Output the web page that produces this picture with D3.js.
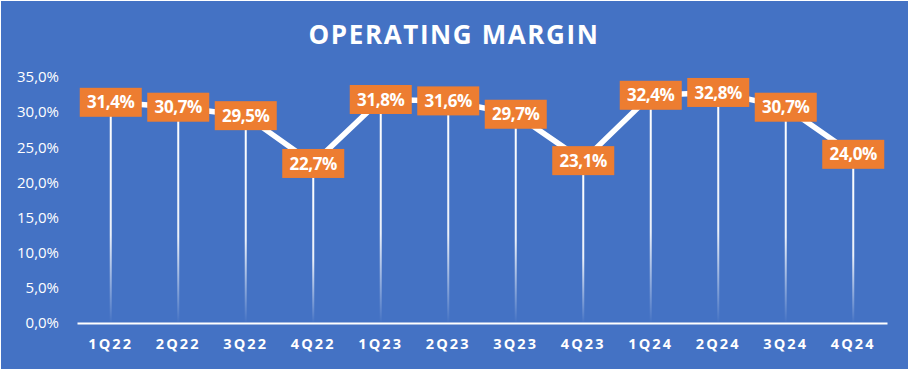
<!DOCTYPE html>
<html><head><meta charset="utf-8">
<script src="https://cdn.jsdelivr.net/npm/d3@7"></script>
<style>html,body{margin:0;padding:0;background:#fff;}svg{display:block;}</style>
</head><body>
<svg id="chart" width="910" height="372"></svg>
<script>
const categories = ["1Q22","2Q22","3Q22","4Q22","1Q23","2Q23","3Q23","4Q23","1Q24","2Q24","3Q24","4Q24"];
const values = [31.4, 30.7, 29.5, 22.7, 31.8, 31.6, 29.7, 23.1, 32.4, 32.8, 30.7, 24.0];
const yTicks = [0, 5, 10, 15, 20, 25, 30, 35];
const title = "OPERATING MARGIN";

const fmt = v => v.toFixed(1).replace(".", ",") + "%";
const svg = d3.select("#chart");
const W = 910, H = 372;
const m = {left: 77, right: 23, top: 77, bottom: 49};

svg.append("rect").attr("x", 1).attr("y", 1).attr("width", 907).attr("height", 368).attr("fill", "#4472C4");

const defs = svg.append("defs");
const grad = defs.append("linearGradient").attr("id", "dropGrad").attr("x1", 0).attr("y1", 0).attr("x2", 0).attr("y2", 1)
  .attr("gradientUnits", "objectBoundingBox");
grad.append("stop").attr("offset", "0%").attr("stop-color", "#fff").attr("stop-opacity", 1);
grad.append("stop").attr("offset", "60%").attr("stop-color", "#fff").attr("stop-opacity", 0.9);
grad.append("stop").attr("offset", "100%").attr("stop-color", "#fff").attr("stop-opacity", 0);

const x = d3.scaleBand().domain(categories).range([m.left, W - m.right]).padding(0);
const y = d3.scaleLinear().domain([0, 35]).range([H - m.bottom, m.top]);

svg.append("text").attr("x", 454).attr("y", 44).attr("text-anchor", "middle")
  .attr("fill", "#fff").attr("font-family", "'Open Sans', sans-serif").attr("font-weight", 700)
  .attr("font-size", 26).attr("letter-spacing", 1.6).text(title);

// y axis labels
const yAxis = d3.axisLeft(y).tickValues(yTicks).tickFormat(d => d.toFixed(1).replace(".", ",") + "%").tickSize(0).tickPadding(0);
const gy = svg.append("g").attr("transform", `translate(${m.left - 18},0)`).call(yAxis);
gy.select(".domain").remove();
gy.selectAll("text").attr("fill", "#fff").attr("font-family", "'Open Sans', sans-serif").attr("font-size", 15);

// drop lines
svg.append("g").selectAll("rect").data(values).join("rect")
  .attr("x", (d, i) => x(categories[i]) + x.bandwidth() / 2 - 1)
  .attr("width", 2)
  .attr("y", d => y(d))
  .attr("height", d => y(0) - y(d))
  .attr("fill", "url(#dropGrad)");

// x axis
const xAxis = d3.axisBottom(x).tickSize(0).tickPadding(16);
const gx = svg.append("g").attr("transform", `translate(0,${y(0)})`).call(xAxis);
gx.select(".domain").attr("stroke", "#fff").attr("stroke-width", 2);
gx.selectAll("text").attr("fill", "#fff").attr("font-family", "'Open Sans', sans-serif").attr("font-weight", 700)
  .attr("font-size", 14.5).attr("letter-spacing", 2.2);

// line
const line = d3.line().x((d, i) => x(categories[i]) + x.bandwidth() / 2).y(d => y(d));
svg.append("path").datum(values).attr("d", line).attr("fill", "none").attr("stroke", "#fff").attr("stroke-width", 5.5)
  .attr("stroke-linejoin", "round");

// labels
const lg = svg.append("g").selectAll("g").data(values).join("g")
  .attr("transform", (d, i) => `translate(${x(categories[i]) + x.bandwidth() / 2},${y(d)})`);
lg.append("rect").attr("x", -31).attr("y", -14.5).attr("width", 62).attr("height", 29).attr("fill", "#ED7D31");
lg.append("text").attr("text-anchor", "middle").attr("dy", "0.36em").attr("fill", "#fff")
  .attr("font-family", "'Open Sans', sans-serif").attr("font-weight", 700).attr("font-size", 17)
  .attr("letter-spacing", -0.4)
  .text(d => fmt(d));
</script>
</body></html>
